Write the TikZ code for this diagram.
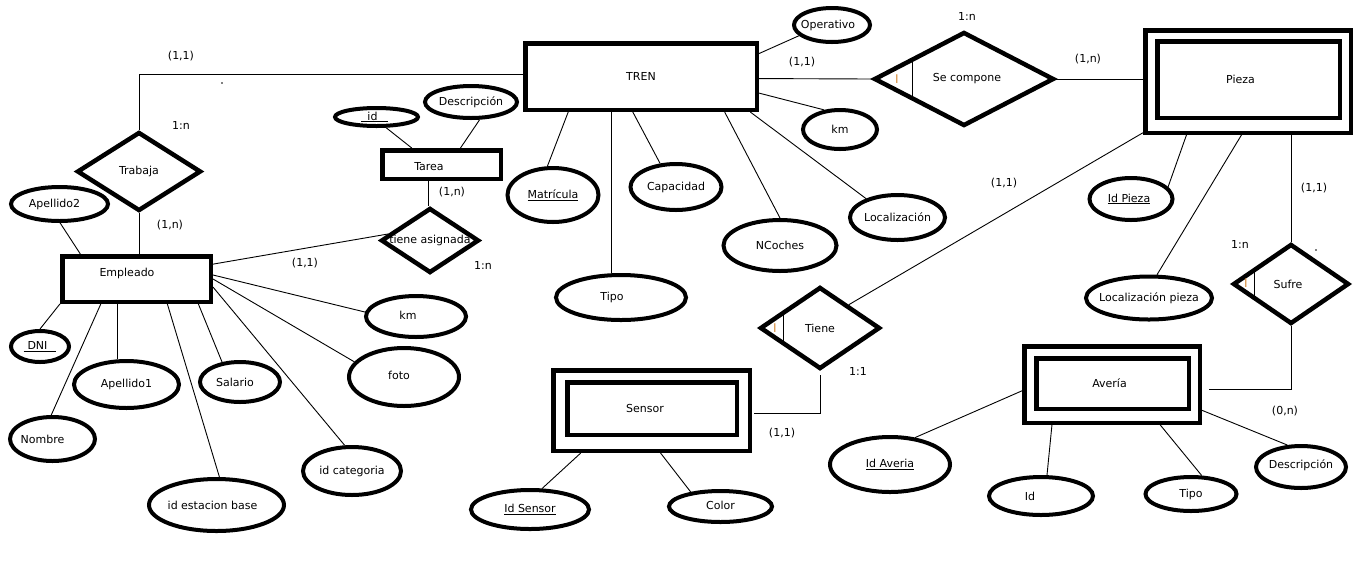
\documentclass[tikz,border=0pt]{standalone}
\usepackage{fontspec}
\setmainfont{DejaVu Sans}
\usetikzlibrary{shapes.geometric}
% text of zero width, so it never enlarges the shape around it
\newcommand\ctext[1]{\makebox[0pt]{#1}}
% same, moved sideways by #1
\newcommand\shtext[2]{\makebox[0pt]{\hspace*{#1}#2\hspace*{-#1}}}
\definecolor{markc}{RGB}{214,140,60}
\begin{document}
\begin{tikzpicture}[x=1pt,y=-1pt,
  every node/.style={font=\fontsize{11}{13}\selectfont},
  ent/.style={draw, rectangle, line width=4.5pt, inner sep=0pt},
  rel/.style={draw, diamond, line width=4.5pt, inner sep=0pt},
  attr/.style={draw, ellipse, line width=4pt, inner sep=0pt},
  conn/.style={line width=0.9pt},
  txt/.style={inner sep=0pt}]
\useasboundingbox (0,0) rectangle (1360,566);
\fill[white] (0,0) rectangle (1360,566);

% ---------- entities ----------
\node[ent, minimum width=231.5pt, minimum height=66.5pt] (tren) at (641,76.5) {\ctext{TREN}};
\node[ent, minimum width=148.5pt, minimum height=45.5pt] (emp) at (136.5,279) {};
\node[txt] (empT) at (127,273) {Empleado};
\node[ent, minimum width=118.5pt, minimum height=28.5pt] (tarea) at (441.5,164.5) {};
\node[txt] (tareaT) at (429,167) {Tarea};
\node[ent, minimum width=205.5pt, minimum height=102.5pt] (pieza) at (1248,81.5) {};
\node[ent, minimum width=182.5pt, minimum height=76.5pt] (piezaIn) at (1248.5,79.5) {\shtext{-8pt}{Pieza}};
\node[ent, minimum width=196.5pt, minimum height=80.5pt] (sensor) at (651.5,410.5) {};
\node[ent, minimum width=169.5pt, minimum height=52.5pt] (sensorIn) at (652,408.5) {\shtext{-7pt}{Sensor}};
\node[ent, minimum width=175.5pt, minimum height=76.5pt] (averia) at (1112,384.5) {};
\node[ent, minimum width=152.5pt, minimum height=50.5pt] (averiaIn) at (1112.5,383.5) {\shtext{-3pt}{Avería}};

% ---------- relationships ----------
\node[rel, minimum width=124pt, minimum height=79pt] (trabaja) at (139,171.5) {\ctext{Trabaja}};
\node[rel, minimum width=98pt, minimum height=65pt] (tasig) at (430,240.5) {\ctext{tiene asignada}};
\node[rel, minimum width=180pt, minimum height=94pt] (secomp) at (964,79) {\shtext{3pt}{Se compone}};
\node[rel, minimum width=120pt, minimum height=82pt] (tiene) at (820,328) {\ctext{Tiene}};
\node[rel, minimum width=116pt, minimum height=80pt] (sufre) at (1291,284) {\shtext{-3pt}{Sufre}};

% identifying marks inside the relationships
\draw[conn] (912,59) -- (912,99);
\node[txt, text=markc, font=\fontsize{12}{14}\selectfont] (secompI) at (897,79) {I};
\draw[conn] (783,312) -- (783,344);
\node[txt, text=markc, font=\fontsize{12}{14}\selectfont] (tieneI) at (775,328) {I};
\draw[conn] (1254,271) -- (1254,299);
\node[txt, text=markc, font=\fontsize{12}{14}\selectfont] (sufreI) at (1246,283) {I};

% ---------- attributes ----------
\node[attr, minimum width=76pt, minimum height=34pt] (operativo) at (832,25) {\shtext{-4pt}{Operativo}};
\node[attr, minimum width=74pt, minimum height=39pt] (kmT) at (840,129.5) {\ctext{km}};
\node[attr, minimum width=91pt, minimum height=46pt] (capacidad) at (676,187) {\raisebox{2pt}{\ctext{Capacidad}}};
\node[attr, minimum width=91pt, minimum height=54pt] (matricula) at (553,195) {\ctext{\underline{Matrícula}}};
\node[attr, minimum width=130pt, minimum height=45pt] (tipoT) at (621,297.5) {\shtext{-9pt}{Tipo}};
\node[attr, minimum width=113pt, minimum height=51pt] (ncoches) at (780,245.5) {\ctext{NCoches}};
\node[attr, minimum width=95pt, minimum height=45pt] (localiz) at (897.5,217.5) {\ctext{Localización}};
\node[attr, minimum width=83pt, minimum height=42pt] (idpieza) at (1131,199) {\shtext{-2pt}{\underline{Id Pieza}}};
\node[attr, minimum width=126pt, minimum height=43pt] (locpieza) at (1149,298) {\ctext{Localización pieza}};
\node[attr, minimum width=120pt, minimum height=55pt] (idaveria) at (890,464.5) {\ctext{\underline{Id Averia}}};
\node[attr, minimum width=104pt, minimum height=38pt] (idav) at (1041,496) {\shtext{-11pt}{Id}};
\node[attr, minimum width=91pt, minimum height=34pt] (tipoA) at (1191,494) {\raisebox{2pt}{\ctext{Tipo}}};
\node[attr, minimum width=90pt, minimum height=42pt] (descA) at (1301,467) {\raisebox{5pt}{\ctext{Descripción}}};
\node[attr, minimum width=118pt, minimum height=39pt] (idsensor) at (530,509.5) {\ctext{\underline{Id Sensor}}};
\node[attr, minimum width=103pt, minimum height=31pt] (color) at (720.5,506.5) {\raisebox{2pt}{\ctext{Color}}};
\node[attr, minimum width=83pt, minimum height=18pt] (idtarea) at (376.5,117) {\shtext{-2pt}{\raisebox{2pt}{\underline{\hspace{6pt}id\hspace{10pt}}}}};
\node[attr, minimum width=92pt, minimum height=32pt] (descT) at (471,102) {\ctext{Descripción}};
\node[attr, minimum width=97pt, minimum height=34pt] (apellido2) at (59.5,204) {\shtext{-5pt}{Apellido2}};
\node[attr, minimum width=58pt, minimum height=31pt] (dni) at (40,346.5) {\ctext{\underline{\hspace{4pt}DNI\hspace{9pt}}}};
\node[attr, minimum width=105pt, minimum height=47pt] (apellido1) at (126.5,384.5) {\raisebox{2pt}{\ctext{Apellido1}}};
\node[attr, minimum width=85pt, minimum height=44pt] (nombre) at (52.5,439) {\shtext{-10pt}{Nombre}};
\node[attr, minimum width=80pt, minimum height=40pt] (salario) at (240,382) {\shtext{-5pt}{Salario}};
\node[attr, minimum width=135pt, minimum height=52pt] (idest) at (216.5,505) {\shtext{-4pt}{id estacion base}};
\node[attr, minimum width=98pt, minimum height=48pt] (idcat) at (352,471) {\raisebox{2pt}{\ctext{id categoria}}};
\node[attr, minimum width=110pt, minimum height=58pt] (foto) at (404,377) {\shtext{-5pt}{\raisebox{3pt}{foto}}};
\node[attr, minimum width=100pt, minimum height=41pt] (kmE) at (416,316.5) {\shtext{-8pt}{\raisebox{3pt}{km}}};

% ---------- connectors ----------
% TREN
\draw[conn] (tren.11.7) -- (operativo.198.4);
\draw[conn] (tren.-1.2) -- (secomp.west);
\draw[conn] (tren.-8.9) -- (kmT.129.8);
\draw[conn] (tren.206.9) -- (matricula.101.7);
\draw[conn] (tren.230.8) -- (tren.230.8 |- tipoT.north);
\draw[conn] (tren.257.3) -- (capacidad.124.7);
\draw[conn] (tren.-23.2) -- (ncoches.90);
\draw[conn] (tren.-18) -- (localiz.149.3);
\draw[conn] (tren.179.3) -| (trabaja.north);
% Pieza
\draw[conn] (secomp.east) -- (secomp.east -| pieza.west);
\draw[conn] (pieza.206.3) -- (tiene.39);
\draw[conn] (pieza.221.7) -- (idpieza.18.9);
\draw[conn] (pieza.263.6) -- (locpieza.71.6);
\draw[conn] (pieza.-51.2) -- (pieza.-51.2 |- sufre.north);
% Sufre / Avería
\draw[conn] (sufre.south) |- ([xshift=7pt,yshift=-4.5pt]averia.east);
\draw[conn] (averia.184.1) -- (idaveria.47);
\draw[conn] (averia.214.5) -- (idav.74.7);
\draw[conn] (averia.-40.2) -- (tipoA.60.3);
\draw[conn] (averia.-16.4) -- (descA.122.6);
% Tiene / Sensor
\draw[conn] ([yshift=-4pt]tiene.south) |- ([xshift=2pt,yshift=-2.5pt]sensor.east);
\draw[conn] (sensor.211.4) -- (idsensor.60.8);
\draw[conn] (sensor.282.6) -- (color.154.4);
% Empleado
\draw[conn] (trabaja.south) -- (trabaja.south |- emp.north);
\draw[conn] (emp.11.1) -- (tasig.171.8);
\draw[conn] (emp.3.7) -- (kmE.175);
\draw[conn] (emp.-0.7) -- (foto.163.2);
\draw[conn] (emp.-6.7) -- (idcat.106.2);
\draw[conn] (emp.-22.5) -- (salario.132);
\draw[conn] (emp.-39.3) -- (idest.84.9);
\draw[conn] (emp.232.1) -- (emp.232.1 |- apellido1.north);
\draw[conn] (emp.215.2) -- (nombre.93.3);
\draw[conn] (emp.198.8) -- (dni.90);
\draw[conn] (emp.156.5) -- (apellido2.-88.5);
% Tarea
\draw[conn] (tarea.151.6) -- (idtarea.-48.8);
\draw[conn] (tarea.41.7) -- (descT.-64.4);
\draw[conn] (tarea.232.9) -- (tarea.232.9 |- tasig.north);

% ---------- cardinalities ----------
\node[txt] (c1) at (181,56) {(1,1)};
\node[txt] (c2) at (181,125) {1:n};
\node[txt] (c3) at (170,225) {(1,n)};
\node[txt] (c4) at (305,263) {(1,1)};
\node[txt] (c5) at (452,192) {(1,n)};
\node[txt] (c6) at (483,265) {1:n};
\node[txt] (c7) at (802,62) {(1,1)};
\node[txt] (c8) at (967,16) {1:n};
\node[txt] (c9) at (1088,59) {(1,n)};
\node[txt] (c10) at (1004,183) {(1,1)};
\node[txt] (c11) at (1314,188) {(1,1)};
\node[txt] (c12) at (1240,244) {1:n};
\node[txt] (c13) at (858,371) {1:1};
\node[txt] (c14) at (782,433) {(1,1)};
\node[txt] (c15) at (1285,411) {(0,n)};

% stray specks
\fill (222,83) circle (0.9pt);
\fill (1316,250) circle (0.9pt);
\end{tikzpicture}
\end{document}
